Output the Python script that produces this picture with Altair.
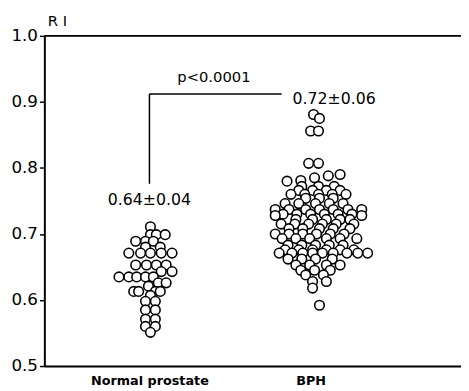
import altair as alt
import pandas as pd

# ---- data ----
groups = ["Normal prostate", "BPH"]

normal_ri = [0.711,
             0.699, 0.699, 0.699,
             0.689, 0.689, 0.689,
             0.680, 0.680,
             0.671, 0.671, 0.671, 0.671, 0.671,
             0.653, 0.653, 0.653, 0.653,
             0.643, 0.643,
             0.635, 0.635, 0.635, 0.635, 0.635,
             0.626, 0.626,
             0.621,
             0.613, 0.613, 0.613, 0.613,
             0.607,
             0.598, 0.598,
             0.585, 0.585,
             0.571, 0.571,
             0.560, 0.560,
             0.551]
normal_jitter = [1,
                 1, 7, 16,
                 -14, -4, 4,
                 -4, 11,
                 -21, -9, 1, 12, 23,
                 -14, -3, 7, 17,
                 12, 23,
                 -31, -21, -13, -4, 4,
                 9, 17,
                 -1,
                 -16, -11, 6, 11,
                 1,
                 -4, 6,
                 -4, 6,
                 -4, 6,
                 -4, 6,
                 1]

bph_ri = [0.881, 0.875,
          0.856, 0.856,
          0.807, 0.807,
          0.780, 0.781, 0.785, 0.788, 0.790,
          0.772, 0.772, 0.772,
          0.766, 0.766, 0.766, 0.766,
          0.760, 0.760, 0.760, 0.760, 0.760,
          0.754, 0.754, 0.754,
          0.746, 0.746, 0.746, 0.746, 0.746,
          0.737, 0.737, 0.737, 0.737, 0.737, 0.737, 0.737,
          0.730, 0.730, 0.730, 0.730, 0.730, 0.730,
          0.728, 0.728,
          0.722, 0.722, 0.722, 0.722, 0.722,
          0.715, 0.715, 0.715, 0.715, 0.715, 0.715,
          0.708, 0.708, 0.708, 0.708, 0.708,
          0.700, 0.700, 0.700, 0.700, 0.700, 0.700,
          0.693, 0.693, 0.693, 0.693, 0.693, 0.693,
          0.683, 0.683, 0.683, 0.683, 0.683,
          0.676, 0.676, 0.676, 0.676, 0.676, 0.676,
          0.671, 0.671, 0.671, 0.671, 0.671, 0.671, 0.671, 0.671, 0.671,
          0.662, 0.662, 0.662, 0.662,
          0.653, 0.653, 0.653, 0.653,
          0.645, 0.645, 0.645,
          0.638, 0.638,
          0.628, 0.628,
          0.618,
          0.592]
bph_jitter = [3, 9,
              0, 8,
              -2, 8,
              -24, -10, 4, 18, 30,
              -9, 8, 24,
              -12, 2, 16, 30,
              -20, -6, 8, 22, 36,
              -5, 9, 23,
              -26, -12, 5, 19, 33,
              -36, -22, -5, 9, 23, 38, 52,
              -28, -14, 0, 14, 28, 42,
              -36, 52,
              -15, 2, 16, 30, 40,
              -30, -16, -2, 12, 26, 44,
              -22, -8, 9, 23, 40,
              -36, -22, -8, 6, 20, 34,
              -29, -15, -1, 16, 30, 47,
              -23, -9, 5, 19, 33,
              -26, -12, 2, 16, 30, 44,
              -32, -19, -8, 2, 12, 23, 37, 48, 58,
              -23, -9, 5, 22,
              -15, -1, 16, 30,
              -10, 4, 20,
              -5, 13,
              2, 16,
              2,
              9]

stats_text = ["0.64\u00b10.04", "0.72\u00b10.06"]
stats_x = [1.0, 2.146]
stats_y = [0.751, 0.905]
p_text = "p<0.0001"

y_all_ticks = [0.5, 0.55, 0.6, 0.65, 0.7, 0.75, 0.8, 0.85, 0.9, 0.95, 1.0]

# ---- tables ----
pts = pd.DataFrame({
    "group": [1] * len(normal_ri) + [2] * len(bph_ri),
    "ri": normal_ri + bph_ri,
    "jitter": normal_jitter + bph_jitter,
})
stats = pd.DataFrame({"x": stats_x, "label": stats_text, "y": stats_y})

FONT = "DejaVu Sans"
xscale = alt.Scale(domain=[0.348, 2.933], nice=False, zero=False)
yscale = alt.Scale(domain=[0.5, 1.0], nice=False, zero=False)

label_expr = "datum.value == 1 ? '%s' : '%s'" % (groups[0], groups[1])
major = "round(datum.value*100) % 10 == 0"

points = alt.Chart(pts).transform_calculate(
    xpos="datum.group + datum.jitter / 164"
).mark_point(
    shape="circle", filled=True, fill="white", stroke="black",
    strokeWidth=1.6, size=95, opacity=1
).encode(
    x=alt.X("xpos:Q", scale=xscale,
            axis=alt.Axis(values=[1, 2], labelExpr=label_expr, title=None,
                          ticks=False, grid=False, domainColor="black",
                          domainWidth=2, labelFont=FONT, labelFontSize=13,
                          labelFontWeight="bold", labelColor="black",
                          labelPadding=9)),
    y=alt.Y("ri:Q", scale=yscale,
            axis=alt.Axis(values=y_all_ticks, title="R I", titleAngle=0,
                          titleFont=FONT, titleFontSize=15,
                          titleFontWeight="normal", titleColor="black",
                          titleX=3, titleY=-23, titleAlign="left",
                          titleBaseline="top",
                          labelExpr="(" + major + ") ? format(datum.value, '.1f') : ''",
                          labelFont=FONT, labelFontSize=17, labelColor="black",
                          labelPadding=2, grid=False, domainColor="black",
                          domainWidth=2, tickColor="black", tickWidth=1.5,
                          tickSize={"condition": {"test": major, "value": 5}, "value": 3})),
)

top_line = alt.Chart(pd.DataFrame({"y": [1.0]})).mark_rule(
    color="black", strokeWidth=2
).encode(y=alt.Y("y:Q", scale=yscale))

bracket_df = pd.DataFrame({
    "x": [1.0, 1.0], "x2": [1.0, 1.82],
    "y": [0.776, 0.912], "y2": [0.912, 0.912],
})
bracket = alt.Chart(bracket_df).mark_rule(color="black", strokeWidth=1.5).encode(
    x=alt.X("x:Q", scale=xscale), x2="x2:Q",
    y=alt.Y("y:Q", scale=yscale), y2="y2:Q",
)

stat_text = alt.Chart(stats).mark_text(
    font=FONT, fontSize=16, color="black", baseline="middle", align="center"
).encode(
    x=alt.X("x:Q", scale=xscale),
    y=alt.Y("y:Q", scale=yscale),
    text="label:N",
)

p_label = alt.Chart(pd.DataFrame({"x": [1.40], "y": [0.937], "t": [p_text]})).mark_text(
    font=FONT, fontSize=15, color="black", baseline="middle", align="center"
).encode(
    x=alt.X("x:Q", scale=xscale),
    y=alt.Y("y:Q", scale=yscale),
    text="t:N",
)

chart = alt.layer(top_line, bracket, points, stat_text, p_label).properties(
    width=424, height=336,
    autosize="none",
    padding={"left": 37, "top": 25, "right": 0, "bottom": 20},
    background="white",
).configure_view(stroke=None)

chart.save("out.html", embed_options={"renderer": "svg", "actions": False})
